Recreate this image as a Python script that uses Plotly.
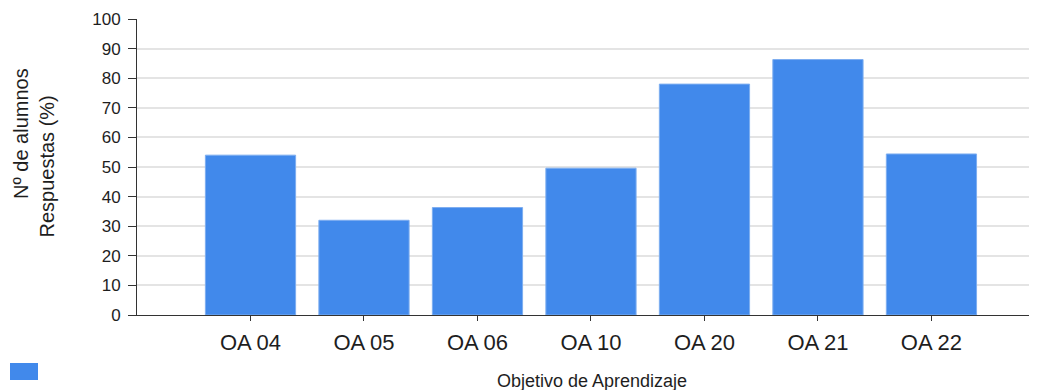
import plotly.graph_objects as go

categories = ["OA 04", "OA 05", "OA 06", "OA 10", "OA 20", "OA 21", "OA 22"]
values = [54, 32, 36.3, 49.6, 78, 86.3, 54.4]
y_ticks = list(range(0, 101, 10))

y_title_1 = "Nº de alumnos"
y_title_2 = "Respuestas (%)"
x_title = "Objetivo de Aprendizaje"

# page body adds an 8px offset; positions below are reference pixels minus 8
OFF = 8
W, H = 1037 - OFF, 390 - OFF
L, R, T, B = 137 - OFF, 0, 19 - OFF, 390 - 315
pw = W - L - R
ph = H - T - B


def px(x):
    return (x - 137) / pw


def py(y):
    return (315 - y) / ph


fig = go.Figure()
fig.add_trace(go.Bar(
    x=list(range(len(categories))), y=values,
    marker=dict(color="#4189EB", line=dict(color="#7DAEF0", width=1)),
    showlegend=False,
))

font_family = "Liberation Sans, Arial, sans-serif"
txt = "#1E1E1E"
fig.update_layout(
    width=W, height=H,
    margin=dict(l=L, r=R, t=T, b=B, autoexpand=False),
    plot_bgcolor="white", paper_bgcolor="white",
    bargap=0.205,
    font=dict(family=font_family, color=txt),
    xaxis=dict(
        range=[-1.0, 6.93],
        tickmode="array",
        tickvals=list(range(len(categories))),
        ticktext=categories,
        ticks="outside", ticklen=5, tickwidth=1, tickcolor="#333333",
        showline=True, linecolor="#333333", linewidth=1,
        showgrid=False, zeroline=False,
        tickfont=dict(size=22, color=txt),
        ticklabelstandoff=3,
    ),
    yaxis=dict(
        range=[0, 100],
        tickmode="array", tickvals=y_ticks,
        ticks="outside", ticklen=8, tickwidth=1, tickcolor="#333333",
        showline=True, linecolor="#333333", linewidth=1,
        showgrid=True, gridcolor="#E4E4E4", gridwidth=2,
        zeroline=False,
        tickfont=dict(size=17, color=txt),
        ticklabelstandoff=4,
    ),
    annotations=[
        dict(text=y_title_1, textangle=-90, xref="paper", yref="paper",
             x=px(21), y=py(134), xanchor="center", yanchor="middle",
             showarrow=False, font=dict(size=20, color=txt)),
        dict(text=y_title_2, textangle=-90, xref="paper", yref="paper",
             x=px(46), y=py(166.5), xanchor="center", yanchor="middle",
             showarrow=False, font=dict(size=20, color=txt)),
        dict(text=x_title, xref="paper", yref="paper",
             x=px(592), y=py(381), xanchor="center", yanchor="middle",
             showarrow=False, font=dict(size=18, color=txt)),
    ],
    shapes=[
        dict(type="rect", xref="paper", yref="paper",
             x0=px(10), x1=px(38), y0=py(380), y1=py(363),
             fillcolor="#4189EB", line=dict(width=0)),
    ],
)

fig.write_html("out.html")
